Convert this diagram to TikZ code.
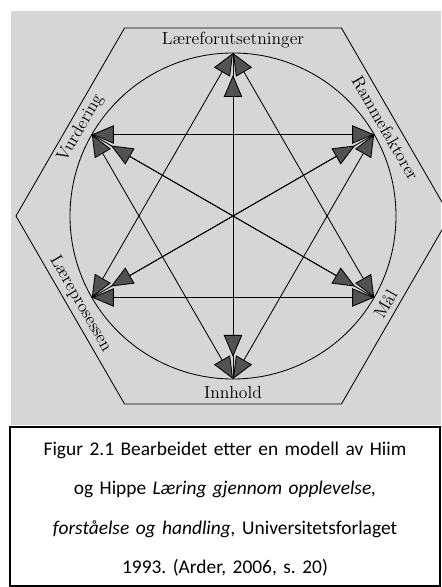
\documentclass[tikz,border=0pt]{standalone}
\usepackage{fontspec}
\newfontfamily\capfont{Carlito}
\usepackage{tikz}
\usetikzlibrary{arrows.meta}
\definecolor{photo}{gray}{0.84}
\definecolor{headgray}{gray}{0.32}
\frenchspacing

\begin{document}
\begin{tikzpicture}[line width=0.6pt,
  both/.style={{Triangle[length=5.5mm,width=4.6mm,fill=headgray]}-{Triangle[length=5.5mm,width=4.6mm,fill=headgray]}},
  lbl/.style={font=\fontsize{12.5}{14}\selectfont,inner sep=1pt}]
  \useasboundingbox (-5.825,-9.275) rectangle (5.2,5.4);

  % photo background
  \fill[photo] (-5.55,-5.225) rectangle (5.2,5.125);

  % Hexagon and circle
  \draw (0:5.425) -- (60:5.425) -- (120:5.425) -- (180:5.425)
    -- (240:5.425) -- (300:5.425) -- cycle;
  \draw (0,0) circle (4.075);

  % Points on the circle
  \coordinate (lf) at (90:4.075);
  \coordinate (ra) at (30:4.075);
  \coordinate (vu) at (150:4.075);
  \coordinate (lp) at (210:4.075);
  \coordinate (ma) at (330:4.075);
  \coordinate (in) at (270:4.075);

  % Diameters (heads set back)
  \draw (lf) -- (in);
  \draw (vu) -- (ma);
  \draw (ra) -- (lp);
  \draw[both,shorten <=5.5mm,shorten >=5.5mm] (lf) -- (in);
  \draw[both,shorten <=5.5mm,shorten >=5.5mm] (vu) -- (ma);
  \draw[both,shorten <=5.5mm,shorten >=5.5mm] (ra) -- (lp);

  % The two triangles
  \draw[both] (lf) -- (lp);
  \draw[both] (lf) -- (ma);
  \draw[both] (lp) -- (ma);
  \draw[both] (vu) -- (ra);
  \draw[both] (vu) -- (in);
  \draw[both] (ra) -- (in);

  % Labels along the hexagon
  \node[lbl] (tlf) at (90:4.4) {Læreforutsetninger};
  \node[lbl,rotate=-60] (tra) at (30:4.4) {Rammefaktorer};
  \node[lbl,rotate=60] (tvu) at (150:4.4) {Vurdering};
  \node[lbl,rotate=-60] (tlp) at (210:4.4) {Læreprosessen};
  \node[lbl,rotate=60] (tma) at (330:4.4) {Mål};
  \node[lbl] (tin) at (270:4.4) {Innhold};

  % Caption
  \draw[fill=white,line width=0.9pt] (-5.575,-5.275) rectangle (5.175,-9.25);
  \node[font=\capfont\fontsize{13.8}{28}\selectfont,text width=10.5cm,align=center] (cap) at (-0.2,-7.33) {%
    Figur 2.1 Bearbeidet etter en modell av Hiim\\
    og Hippe \textit{Læring gjennom opplevelse,}\\
    \textit{forståelse og handling,} Universitetsforlaget\\
    1993. (Arder, 2006, s. 20)};
\end{tikzpicture}
\end{document}
